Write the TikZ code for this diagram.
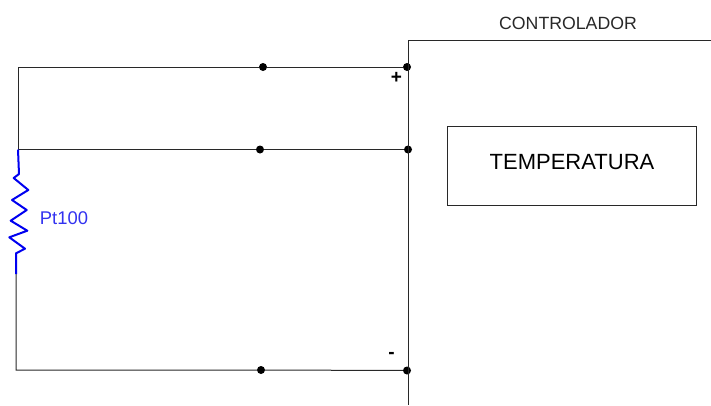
\documentclass[tikz,border=0pt]{standalone}
\usepackage{fontspec}
\setmainfont{Liberation Sans}
\definecolor{wire}{RGB}{40,40,40}
\definecolor{resblue}{RGB}{0,0,240}
\definecolor{labelblue}{RGB}{50,50,240}
\tikzset{
  wireline/.style={draw=wire,line width=1pt},
  junction/.style={circle,fill=black,draw=none,minimum size=8pt,inner sep=0pt},
  resline/.style={draw=resblue,line width=2pt,line join=round},
  labeltext/.style={inner sep=0pt,text=black}
}
\begin{document}
\begin{tikzpicture}[x=1pt,y=-1pt]
\useasboundingbox (0,0) rectangle (711,405);
% corners
\coordinate (tl) at (18,67);
\coordinate (ml) at (18,149.5);
\coordinate (rb) at (16,274);
\coordinate (bl) at (16,370);
\coordinate (cbottom) at (408,405);
\coordinate (ctop) at (408,40);
\coordinate (cright) at (711,40);
% junctions
\node[junction] (t1) at (263,67) {};
\node[junction] (t2) at (407,67) {};
\node[junction] (m1) at (260,149.5) {};
\node[junction] (m2) at (408,149.5) {};
\node[junction] (b1) at (261,370) {};
\node[junction] (b2) at (407,370.5) {};
% wires
\draw[wireline] (cright) -- (ctop) -- (cbottom);
\draw[wireline] (ml) -- (tl) -- (t1) -- (t2);
\draw[wireline] (ml) -- (m1) -- (m2);
\draw[wireline] (rb) -- (bl) -- (b1) -- (b2);
% resistor
\draw[resline] (ml) -- (19,174) -- (13.7,178) -- (28.3,190) -- (12,200) -- (26.7,210) -- (10.7,220.7) -- (27.3,230.7) -- (9.3,237.3) -- (25,248.7) -- (16,253.3) -- (rb);
% box
\node[draw=wire,line width=1pt,minimum width=249pt,minimum height=79pt,inner sep=0pt] (temp) at (571.5,165.5) {};
\node[labeltext,font=\fontsize{22pt}{24pt}\selectfont,preaction={}] (templabel) at (572,162) {TEMPERATURA};
\node[labeltext,text=wire,font=\fontsize{17.7pt}{20pt}\selectfont] (ctrl) at (568,23) {CONTROLADOR};
\node[labeltext,text=labelblue,font=\fontsize{18.4pt}{20pt}\selectfont] (pt) at (64,218.5) {Pt100};
\node[labeltext,font=\bfseries\fontsize{19pt}{20pt}\selectfont] (plus) at (396.5,78) {+};
\node[labeltext,font=\bfseries\fontsize{19pt}{20pt}\selectfont] (minus) at (391.5,355) {-};
\end{tikzpicture}
\end{document}
